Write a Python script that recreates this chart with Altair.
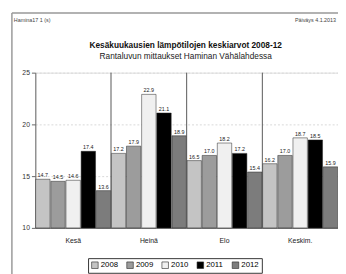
import altair as alt
import pandas as pd

months = ["Kesä", "Heinä", "Elo", "Keskim."]
years = ["2008", "2009", "2010", "2011", "2012"]
v2008 = [14.7, 17.2, 16.5, 16.2]
v2009 = [14.5, 17.9, 17.0, 17.0]
v2010 = [14.6, 22.9, 18.2, 18.7]
v2011 = [17.4, 21.1, 17.2, 18.5]
v2012 = [13.6, 18.9, 15.4, 15.9]
colors = ["#c4c4c4", "#9c9c9c", "#f0f0f0", "#000000", "#7c7c7c"]
title_text = "Kesäkuukausien lämpötilojen keskiarvot 2008-12"
subtitle_text = "Rantaluvun mittaukset Haminan Vähälahdessa"

rows = []
for y, vals in zip(years, [v2008, v2009, v2010, v2011, v2012]):
    for m, v in zip(months, vals):
        rows.append({"kk": m, "vuosi": y, "arvo": v})
df = pd.DataFrame(rows)

FONT = "Liberation Sans"

xenc = alt.X("kk:N", sort=months, scale=alt.Scale(paddingInner=0, paddingOuter=0),
             axis=alt.Axis(title=None, labelAngle=0, ticks=False, domain=True,
                           domainColor="#666666", labelFontSize=7, labelColor="#222222",
                           labelPadding=9, labelFont=FONT))
yenc = alt.Y("arvo:Q", scale=alt.Scale(domain=[10, 25], nice=False, zero=False),
             axis=alt.Axis(title=None, values=[10, 15, 20, 25], labelFontSize=7,
                           labelColor="#333333", tickSize=4, tickColor="#666666",
                           domainColor="#666666", gridColor="#d8d8d8",
                           gridDash=[2, 2], labelFont=FONT))
xoff = alt.XOffset("vuosi:N", sort=years, scale=alt.Scale(paddingInner=0.05, paddingOuter=0.02))

bars = alt.Chart(df).mark_bar(stroke="#222222", strokeWidth=0.5).encode(
    x=xenc, y=yenc, xOffset=xoff,
    y2=alt.datum(10),
    fill=alt.Fill("vuosi:N", sort=years,
                  scale=alt.Scale(domain=years, range=colors),
                  legend=alt.Legend(title=None, orient="none", legendX=54, legendY=190,
                                    direction="horizontal", strokeColor="#333333",
                                    padding=3, labelFontSize=8, labelFont=FONT,
                                    symbolType="square", symbolSize=45,
                                    symbolStrokeColor="#222222", symbolStrokeWidth=0.6,
                                    columnPadding=7, labelOffset=2)),
)

labels = alt.Chart(df).mark_text(dy=-4, fontSize=5.5, font=FONT, color="#222222").encode(
    x=alt.X("kk:N", sort=months), xOffset=alt.XOffset("vuosi:N", sort=years),
    y="arvo:Q", text=alt.Text("arvo:Q", format=".1f"),
)

sep = alt.Chart(pd.DataFrame({"kk": months[1:]})).mark_rule(color="#555555", strokeWidth=1).encode(
    x=alt.X("kk:N", sort=months, bandPosition=0),
    y=alt.datum(25), y2=alt.datum(10),
)

hdr_left = alt.Chart(pd.DataFrame({"t": ["Hamina17 1 (s)"]})).mark_text(
    align="left", fontSize=5.5, font=FONT, color="#444444").encode(
    x=alt.value(-22), y=alt.value(-54), text="t:N")
hdr_right = alt.Chart(pd.DataFrame({"t": ["Päiväys 4.1.2013"]})).mark_text(
    align="right", fontSize=5.5, font=FONT, color="#444444").encode(
    x=alt.value(308), y=alt.value(-54), text="t:N")

ttl = alt.Chart(pd.DataFrame({"t": [title_text]})).mark_text(
    align="center", baseline="middle", fontSize=8.5, fontWeight="bold", font=FONT,
    color="#111111").encode(x=alt.value(154), y=alt.value(-28), text="t:N")
sub = alt.Chart(pd.DataFrame({"t": [subtitle_text]})).mark_text(
    align="center", baseline="middle", fontSize=8.5, font=FONT,
    color="#222222").encode(x=alt.value(154), y=alt.value(-17), text="t:N")

frame_top = alt.Chart(pd.DataFrame({"a": [0]})).mark_rule(color="#999999", strokeWidth=1.5).encode(
    x=alt.value(-24), x2=alt.value(320), y=alt.value(-61))
frame_left = alt.Chart(pd.DataFrame({"a": [0]})).mark_rule(color="#999999", strokeWidth=1.5).encode(
    x=alt.value(-24), y=alt.value(-61), y2=alt.value(210))

chart = alt.layer(bars, sep, labels, hdr_left, hdr_right, ttl, sub, frame_top, frame_left).properties(
    width=310, height=159,
    autosize=alt.AutoSizeParams(type="none"),
    padding={"left": 28, "top": 63, "right": 0, "bottom": 44},
).configure_view(stroke=None).configure(background="white")

chart.save("out.html", embed_options={"renderer": "svg", "actions": False})
